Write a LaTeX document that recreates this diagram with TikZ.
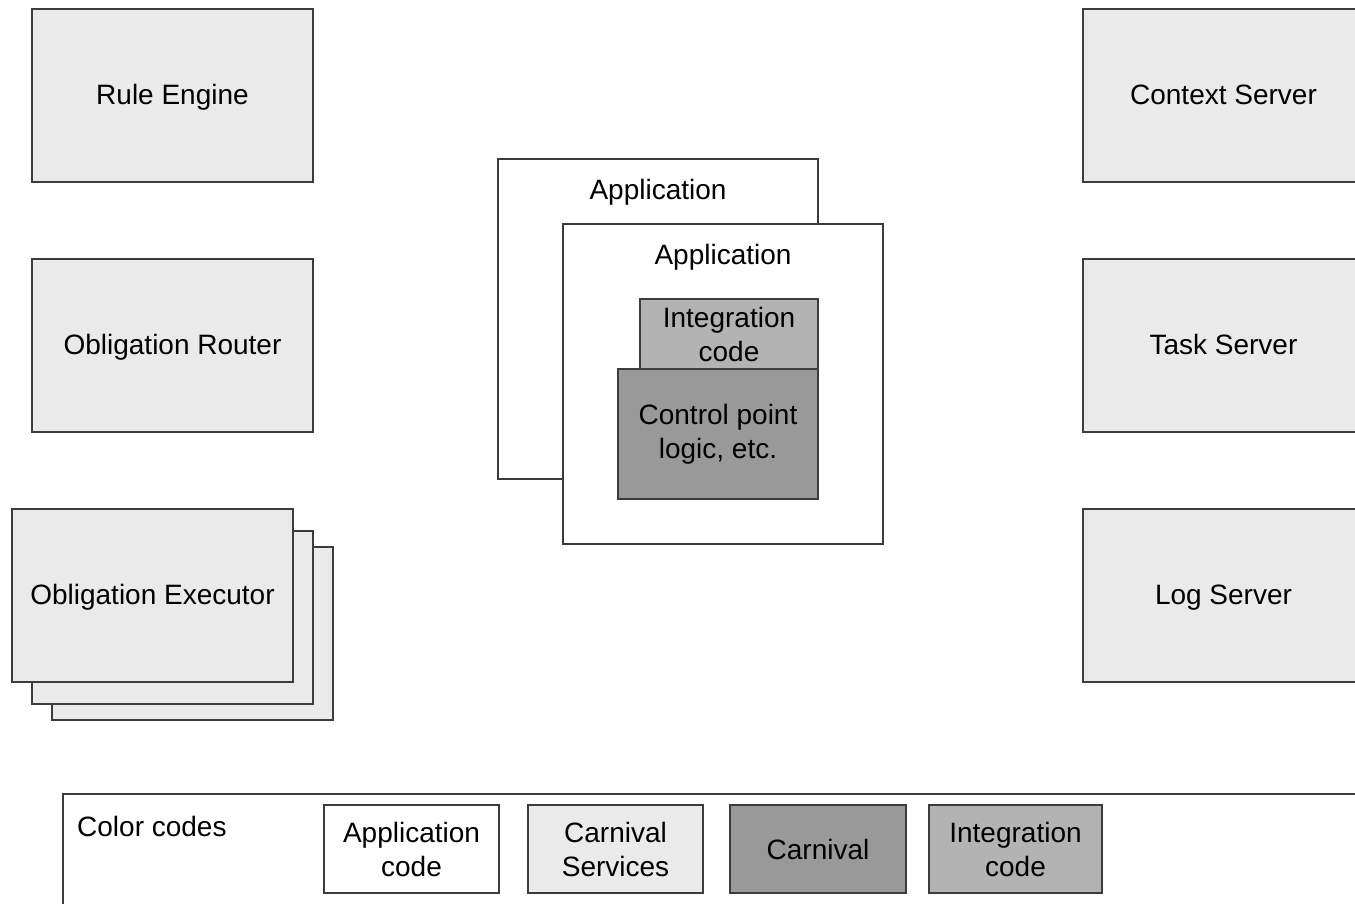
\documentclass[tikz,border=0pt]{standalone}
\usepackage{fontspec}
\setmainfont{Liberation Sans}
\definecolor{svc}{HTML}{EAEAEA}
\definecolor{carn}{HTML}{999999}
\definecolor{integ}{HTML}{B3B3B3}
\definecolor{edge}{HTML}{3C3C3C}
\newcommand{\dfont}{\fontsize{28}{34}\selectfont}
\tikzset{
  box/.style={draw=edge, line width=1.1pt, inner sep=0pt, outer sep=0pt, anchor=north west, font=\dfont, align=center, text=black},
  onelinebox/.style={text depth=2.5pt},
  svcbox/.style={box, onelinebox, fill=svc, minimum width=281pt, minimum height=173pt},
  appbox/.style={box, fill=white, minimum width=320pt, minimum height=320pt},
  lgbox/.style={box, minimum height=88pt},
  txt/.style={font=\dfont, inner sep=0pt, text=black, align=center}
}
\begin{document}
\begin{tikzpicture}[x=1pt,y=-1pt]
\useasboundingbox (0,0) rectangle (1355,904);
\clip (0,0) rectangle (1355,904);
% left services
\node[svcbox] (rule) at (32,9) {Rule Engine};
\node[svcbox] (router) at (32,259) {Obligation Router};
\node[svcbox] (exec3) at (52,547) {};
\node[svcbox] (exec2) at (32,531) {};
\node[svcbox] (exec1) at (12,509) {Obligation Executor};
% right services
\node[svcbox] (context) at (1083,9) {Context Server};
\node[svcbox] (task) at (1083,259) {Task Server};
\node[svcbox] (log) at (1083,509) {Log Server};
% applications
\node[appbox] (appback) at (498,159) {};
\node[txt, yshift=-2.5pt] (appbacklbl) at (658,190) {Application};
\node[appbox] (appfront) at (563,224) {};
\node[txt, yshift=-2.5pt] (appfrontlbl) at (723,255) {Application};
\node[box, fill=integ, minimum width=178pt, minimum height=70pt] (integ) at (640,299) {Integration\\code};
\node[box, fill=carn, minimum width=200pt, minimum height=130pt] (ctrl) at (618,369) {Control point\\logic, etc.};
% legend
\node[box, fill=white, minimum width=1320pt, minimum height=140pt] (legend) at (63,794) {};
\node[txt, anchor=west] (legendlbl) at (77,826) {Color codes};
\node[lgbox, fill=white, minimum width=175pt] (lgapp) at (324,805) {Application\\code};
\node[lgbox, fill=svc, minimum width=175pt] (lgsvc) at (528,805) {Carnival\\Services};
\node[lgbox, fill=carn, minimum width=176pt] (lgcarn) at (730,805) {Carnival};
\node[lgbox, fill=integ, minimum width=173pt] (lginteg) at (929,805) {Integration\\code};
\end{tikzpicture}
\end{document}
